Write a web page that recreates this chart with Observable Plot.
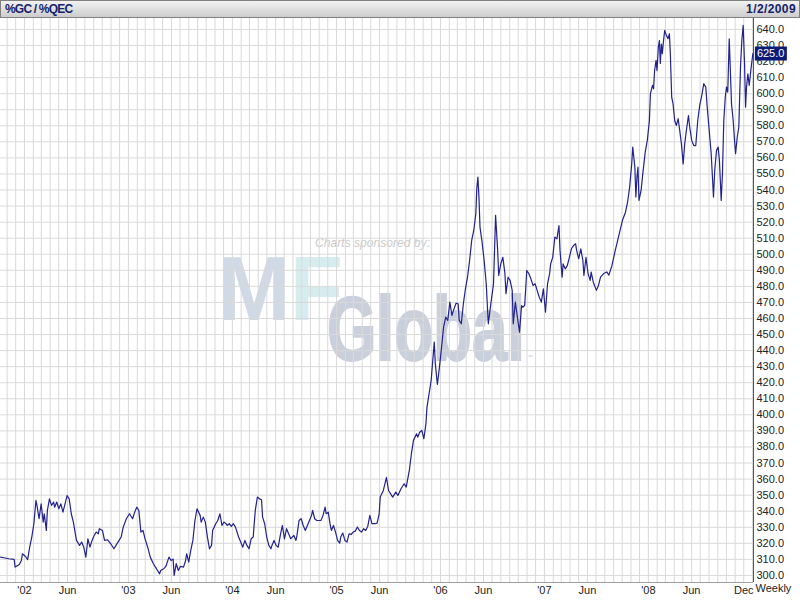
<!DOCTYPE html>
<html><head><meta charset="utf-8">
<script src="https://cdn.jsdelivr.net/npm/d3@7"></script>
<script src="https://cdn.jsdelivr.net/npm/@observablehq/plot@0.6"></script>
<style>
body{margin:0;background:#fff;}
#wrap{position:relative;width:800px;height:600px;overflow:hidden;font-family:"Liberation Sans",Arial,sans-serif;}
#hdr{box-sizing:border-box;height:18px;border:1px solid #808080;background:linear-gradient(#f2f2f2,#cdcdcd);display:flex;justify-content:space-between;align-items:center;padding:0 3px 0 4px;font:bold 12px "Liberation Sans",Arial,sans-serif;color:#16226c;position:relative;z-index:2;}
#hdr .l{letter-spacing:-0.8px;}
#hdr .r{letter-spacing:0.4px;}
#wm{position:absolute;left:0;top:0;z-index:0;}
#chart{position:relative;z-index:1;}
#chart svg{display:block;}
</style></head>
<body><div id="wrap">
<div id="hdr"><span class="l">%GC / %QEC</span><span class="r">1/2/2009</span></div>
<svg id="wm" width="800" height="600">
  <text x="315" y="247" font-family="Liberation Sans, Arial, sans-serif" font-size="13" font-style="italic" fill="#cacaca" textLength="115" lengthAdjust="spacingAndGlyphs">Charts sponsored by:</text>
  <text x="218" y="320" font-family="Liberation Sans, Arial, sans-serif" font-size="90" font-weight="bold" textLength="125" lengthAdjust="spacingAndGlyphs"><tspan fill="#d0d9e6">M</tspan><tspan fill="#d6ecef">F</tspan></text>
  <text x="327" y="360" font-family="Liberation Sans, Arial, sans-serif" font-size="90" font-weight="bold" fill="#cad0db" stroke="#cad0db" stroke-width="2" textLength="198" lengthAdjust="spacingAndGlyphs">Global</text>
  <text x="527" y="359" font-family="Liberation Sans, Arial, sans-serif" font-size="6" fill="#cad0db">™</text>
</svg>
<div id="chart"></div>
</div>
<script>
// Weekly gold / euro-currency ratio (decimal year, value)
const years = [
2001.77,2001.80,2001.85,2001.90,2001.91,2001.95,2001.97,2001.98,2002.01,2002.03,2002.05,2002.07,2002.09,2002.11,2002.12,2002.14,2002.16,2002.18,2002.19,2002.21,
2002.22,2002.24,2002.26,2002.28,2002.29,2002.31,2002.33,2002.35,2002.37,2002.39,2002.41,2002.43,2002.45,2002.47,2002.50,2002.53,2002.55,2002.57,2002.59,2002.61,
2002.63,2002.65,2002.67,2002.69,2002.71,2002.72,2002.75,2002.77,2002.80,2002.83,2002.86,2002.88,2002.91,2002.93,2002.95,2002.98,2003.01,2003.04,2003.06,2003.08,
2003.10,2003.12,2003.14,2003.16,2003.19,2003.21,2003.24,2003.26,2003.28,2003.30,2003.31,2003.34,2003.36,2003.39,2003.41,2003.43,2003.44,2003.46,2003.48,2003.50,
2003.53,2003.55,2003.56,2003.58,2003.60,2003.62,2003.64,2003.66,2003.69,2003.70,2003.72,2003.74,2003.76,2003.78,2003.80,2003.81,2003.84,2003.86,2003.88,2003.90,
2003.92,2003.94,2003.95,2003.97,2003.99,2004.01,2004.03,2004.06,2004.08,2004.10,2004.12,2004.14,2004.16,2004.18,2004.20,2004.22,2004.24,2004.26,2004.28,2004.29,
2004.31,2004.33,2004.35,2004.37,2004.38,2004.40,2004.42,2004.44,2004.46,2004.48,2004.50,2004.52,2004.54,2004.56,2004.59,2004.61,2004.62,2004.64,2004.66,2004.68,
2004.70,2004.72,2004.74,2004.76,2004.77,2004.79,2004.81,2004.85,2004.87,2004.89,2004.90,2004.92,2004.94,2004.95,2004.97,2004.99,2005.01,2005.03,2005.04,2005.06,
2005.08,2005.10,2005.12,2005.14,2005.16,2005.18,2005.20,2005.22,2005.24,2005.26,2005.28,2005.30,2005.32,2005.34,2005.37,2005.39,2005.41,2005.42,2005.45,2005.48,
2005.50,2005.54,2005.57,2005.59,2005.62,2005.65,2005.67,2005.70,2005.72,2005.74,2005.77,2005.78,2005.80,2005.82,2005.84,2005.86,2005.87,2005.89,2005.91,2005.94,
2005.95,2005.97,2005.99,2006.01,2006.03,2006.05,2006.07,2006.09,2006.11,2006.13,2006.15,2006.17,2006.18,2006.20,2006.22,2006.24,2006.26,2006.28,2006.30,2006.32,
2006.34,2006.35,2006.36,2006.37,2006.38,2006.40,2006.42,2006.44,2006.46,2006.48,2006.51,2006.52,2006.53,2006.55,2006.56,2006.58,2006.60,2006.62,2006.63,2006.65,
2006.67,2006.69,2006.70,2006.72,2006.74,2006.76,2006.78,2006.79,2006.81,2006.83,2006.85,2006.87,2006.89,2006.91,2006.93,2006.95,2006.97,2006.99,2007.01,2007.03,
2007.05,2007.06,2007.08,2007.10,2007.12,2007.14,2007.15,2007.17,2007.18,2007.20,2007.22,2007.24,2007.26,2007.28,2007.30,2007.31,2007.33,2007.35,2007.37,2007.38,
2007.40,2007.42,2007.44,2007.45,2007.47,2007.50,2007.52,2007.54,2007.57,2007.60,2007.62,2007.65,2007.68,2007.71,2007.75,2007.78,2007.80,2007.82,2007.84,2007.85,
2007.87,2007.88,2007.89,2007.90,2007.91,2007.93,2007.95,2007.97,2007.99,2008.01,2008.02,2008.04,2008.05,2008.060,2008.074,2008.083,2008.096,2008.106,2008.115,2008.125,
2008.134,2008.144,2008.157,2008.173,2008.189,2008.202,2008.211,2008.224,2008.237,2008.253,2008.269,2008.286,2008.301,2008.317,2008.334,2008.349,2008.365,2008.385,2008.397,2008.416,
2008.436,2008.455,2008.474,2008.493,2008.513,2008.532,2008.551,2008.565,2008.584,2008.603,2008.615,2008.625,2008.637,2008.654,2008.670,2008.682,2008.699,2008.711,2008.724,2008.738,
2008.750,2008.762,2008.776,2008.786,2008.798,2008.814,2008.827,2008.837,2008.853,2008.868,2008.884,2008.897,2008.910,2008.923,2008.933,2008.942,2008.955,2008.968,2008.987,2009.003
];
const prices = [
311.4,311.0,310.4,310.0,305.2,306.8,309.3,313.5,311.8,309.8,317.6,323.9,332.2,346.7,343.6,335.3,344.6,333.2,338.4,328.0,
340.5,347.7,343.6,345.7,342.5,345.7,341.5,344.6,339.4,344.6,349.8,347.7,338.4,333.2,321.8,318.7,320.8,317.6,311.4,322.8,
317.6,321.8,324.9,327.0,325.9,329.1,328.0,321.8,322.2,319.7,316.6,318.7,321.8,323.9,330.1,335.3,338.4,335.3,339.4,342.5,
340.5,327.0,328.0,322.8,316.6,311.4,307.3,305.2,303.1,301.0,303.1,304.2,305.6,311.4,309.3,310.2,300.0,307.3,303.1,305.6,
305.2,309.3,313.5,308.3,315.6,321.8,334.2,341.5,337.4,333.2,336.3,333.2,323.9,316.6,318.7,328.0,332.2,334.2,338.4,331.1,
333.2,332.2,331.1,332.2,330.5,332.2,330.1,323.9,320.8,317.6,321.8,318.7,316.6,322.8,323.9,340.5,348.8,347.7,347.1,336.3,
332.2,323.9,318.7,316.6,318.7,321.8,318.7,317.6,324.9,331.1,322.8,329.1,325.9,322.8,324.9,321.8,324.9,334.2,335.3,331.1,
328.0,331.1,334.2,337.4,340.5,335.3,334.2,334.2,337.4,342.5,338.4,339.4,331.1,328.0,331.1,327.0,321.8,320.1,323.9,326.4,
321.8,320.8,325.9,325.5,327.0,327.6,330.1,328.0,327.0,329.1,328.0,330.5,337.4,332.2,332.2,332.6,338.4,348.8,352.9,361.0,
352.9,348.8,351.9,349.8,354.0,357.1,355.0,365.4,375.8,384.1,388.2,386.1,389.2,390.3,385.1,394.5,404.8,413.1,421.4,445.3,
431.9,418.9,429.7,442.2,454.6,460.8,458.8,470.2,461.9,466.0,469.5,469.2,458.8,456.7,469.2,478.5,485.7,496.1,508.6,514.8,
525.2,541.8,548.0,535.6,516.9,507.5,496.1,481.6,456.7,467.0,481.6,502.4,524.2,502.4,486.8,494.0,498.1,487.9,475.4,485.7,
483.7,477.5,456.7,470.2,460.8,451.5,468.1,467.0,468.1,489.9,487.9,484.7,480.6,481.6,477.5,473.3,470.2,478.5,463.9,481.6,
487.9,494.0,498.1,510.6,509.6,517.9,502.4,485.7,494.0,490.9,492.9,498.1,503.4,505.4,506.5,502.4,497.2,503.4,496.1,486.8,
498.1,487.9,483.7,488.9,482.6,477.5,480.6,485.7,488.0,489.0,487.0,493.0,502.0,510.0,521.0,526.2,532.4,541.8,556.3,566.7,
554.2,535.6,548.0,554.2,533.5,539.7,552.2,563.6,570.9,583.3,600.0,605.2,603.0,614.4,620.7,614.4,629.0,633.1,618.8,630.9,
624.9,632.0,639.4,636.3,634.2,637.3,624.9,597.8,593.6,583.3,580.2,584.4,577.1,568.8,556.3,568.8,577.1,586.4,579.1,570.9,
567.7,567.7,583.3,592.7,598.9,606.2,604.1,591.6,577.1,562.6,548.0,535.6,552.2,564.7,566.7,558.4,533.5,550.1,583.3,597.8,
604.1,601.0,634.2,616.5,593.6,583.3,570.9,562.6,573.0,579.1,616.5,633.1,642.5,618.8,591.6,604.1,612.4,605.2,616.5,625.0
];
const yTicks = [300,310,320,330,340,350,360,370,380,390,400,410,420,430,440,450,460,470,480,490,500,510,520,530,540,550,560,570,580,590,600,610,620,630,640];
const xTickDates = ["2002-01-01","2002-06-01","2003-01-01","2003-06-01","2004-01-01","2004-06-01","2005-01-01","2005-06-01","2006-01-01","2006-06-01","2007-01-01","2007-06-01","2008-01-01","2008-06-01","2008-12-01"];
const xTickLabels = ["'02","Jun","'03","Jun","'04","Jun","'05","Jun","'06","Jun","'07","Jun","'08","Jun","Dec"];
const xRange = [2001.769, 2009.009];
const yRange = [295.6, 646.8];

function decToDate(y){
  const yr = Math.floor(y);
  const a = Date.UTC(yr,0,1), b = Date.UTC(yr+1,0,1);
  return new Date(a + (y-yr)*(b-a));
}
const series = years.map((y,i)=>({date: decToDate(y), price: prices[i]}));
const last = series[series.length-1];
const xStart = decToDate(xRange[0]), xEnd = decToDate(xRange[1]);
const monthGrid = d3.utcMonth.range(xStart, xEnd);
const tickDates = xTickDates.map(s=>new Date(s+"T00:00:00Z"));
const labelMap = new Map(tickDates.map((d,i)=>[+d, xTickLabels[i]]));

function labelBox(index, scales, values, dims, context, next){
  const g = next(index, scales, values, dims, context);
  const i = index[0];
  const px = values.x[i], py = values.y[i];
  const r = document.createElementNS("http://www.w3.org/2000/svg","rect");
  r.setAttribute("x", px - 2); r.setAttribute("y", py - 7);
  r.setAttribute("width", 32); r.setAttribute("height", 14);
  r.setAttribute("fill", "#0d1b78");
  g.insertBefore(r, g.firstChild);
  return g;
}

const chart = Plot.plot({
  width: 800, height: 582,
  marginTop: 0, marginLeft: 0, marginRight: 47, marginBottom: 18,
  style: {background: "transparent", fontFamily: "'Liberation Sans', Arial, sans-serif", fontSize: "11px", color: "#222"},
  x: {type: "utc", domain: [xStart, xEnd]},
  y: {domain: yRange},
  marks: [
    Plot.ruleX(monthGrid, {stroke: "#d9d9d9", strokeWidth: 1}),
    Plot.ruleY(yTicks, {stroke: "#d9d9d9", strokeWidth: 1}),
    Plot.ruleY([yRange[0]], {stroke: "#a0a0a0"}),
    Plot.ruleX([xEnd], {stroke: "#555"}),
    Plot.line(series, {x: "date", y: "price", stroke: "#22228e", strokeWidth: 1.2}),
    Plot.axisY({anchor: "right", ticks: yTicks, tickFormat: d => d.toFixed(1), tickSize: 0, tickPadding: 3, label: null, fill: "#222"}),
    Plot.axisX({ticks: tickDates, tickFormat: d => labelMap.get(+d), tickSize: 0, tickPadding: 4, label: null, fill: "#222"}),
    Plot.text(["Weekly"], {frameAnchor: "bottom-right", textAnchor: "start", dx: 2, dy: 9, fill: "#222"}),
    Plot.text([last], {x: "date", y: "price", text: d => d.price.toFixed(1), dx: 4, textAnchor: "start", fill: "white", render: labelBox})
  ]
});
document.getElementById("chart").appendChild(chart);
</script>
</body></html>
